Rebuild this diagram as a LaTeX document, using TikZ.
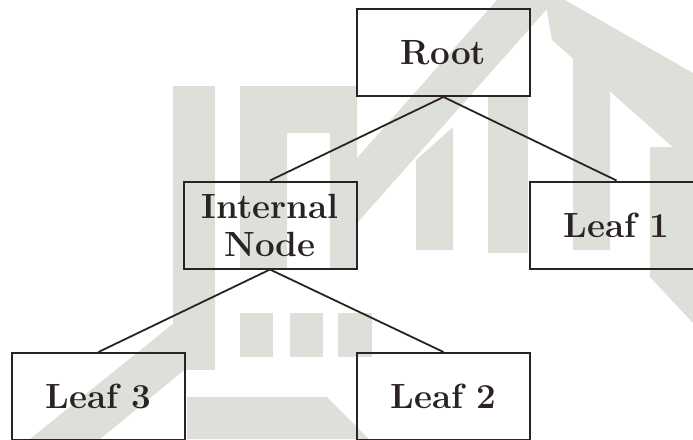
\documentclass[tikz,border=0pt]{standalone}
\definecolor{ink}{RGB}{43,35,35}
\definecolor{wm}{RGB}{221,224,217}
\definecolor{wmy}{RGB}{250,246,214}
\tikzset{
  treebox/.style={draw=ink, line width=2pt, rectangle, minimum width=173pt, minimum height=87pt,
    inner sep=0pt, align=center, text=ink, font=\fontsize{35}{38}\selectfont\bfseries},
  treeline/.style={draw=ink, line width=1.8pt},
  wmshape/.style={fill=wm, draw=none},
  wmarc/.style={draw=wmy, line width=7pt}
}
\begin{document}
\begin{tikzpicture}[x=1pt,y=-1pt]
\useasboundingbox (0,0) rectangle (693,439);
\fill[white] (0,0) rectangle (693,439);
% watermark (faint background)
\begin{scope}
\clip (0,0) rectangle (693,439);
\foreach \r in {28,50,72,94,116}
  \draw[wmarc] (547-\r,450) arc[start angle=180, end angle=0, x radius=\r, y radius=1.1*\r];
\fill[wmshape] (173,86) rectangle (215,370);
\fill[wmshape, even odd rule] (240,86) rectangle (357,268) (287,133) rectangle (330,268);
\fill[wmshape] (240,313) rectangle (273,357);
\fill[wmshape] (290,313) rectangle (323,357);
\fill[wmshape] (338,313) rectangle (372,357);
\fill[wmshape] (187,397) -- (327,397) -- (369,439) -- (187,439) -- cycle;
\fill[wmshape] (30,439) -- (100,439) -- (215,345) -- (215,290) -- cycle;
\fill[wmshape] (497,0) -- (555,0) -- (357,223) -- (357,158) -- cycle;
\fill[wmshape] (545,0) -- (565,0) -- (693,73) -- (693,165) -- (552,40) -- cycle;
\fill[wmshape] (416,160) -- (453,127) -- (453,250) -- (416,250) -- cycle;
\fill[wmshape] (488,97) rectangle (528,253);
\fill[wmshape] (573,57) -- (610,90) -- (610,250) -- (573,250) -- cycle;
\fill[wmshape] (650,147) -- (693,147) -- (693,323) -- (650,277) -- cycle;
\end{scope}
% tree
\node[treebox] (root) at (443.5,52.5) {Root};
\node[treebox] (int) at (270,225) {Internal\\Node};
\node[treebox] (l1) at (616.5,225) {Leaf 1};
\node[treebox] (l3) at (98.5,396.5) {Leaf 3};
\node[treebox] (l2) at (443.5,396.5) {Leaf 2};
\draw[treeline] (root.south) -- (int.north);
\draw[treeline] (root.south) -- (l1.north);
\draw[treeline] (int.south) -- (l3.north);
\draw[treeline] (int.south) -- (l2.north);
\end{tikzpicture}
\end{document}
